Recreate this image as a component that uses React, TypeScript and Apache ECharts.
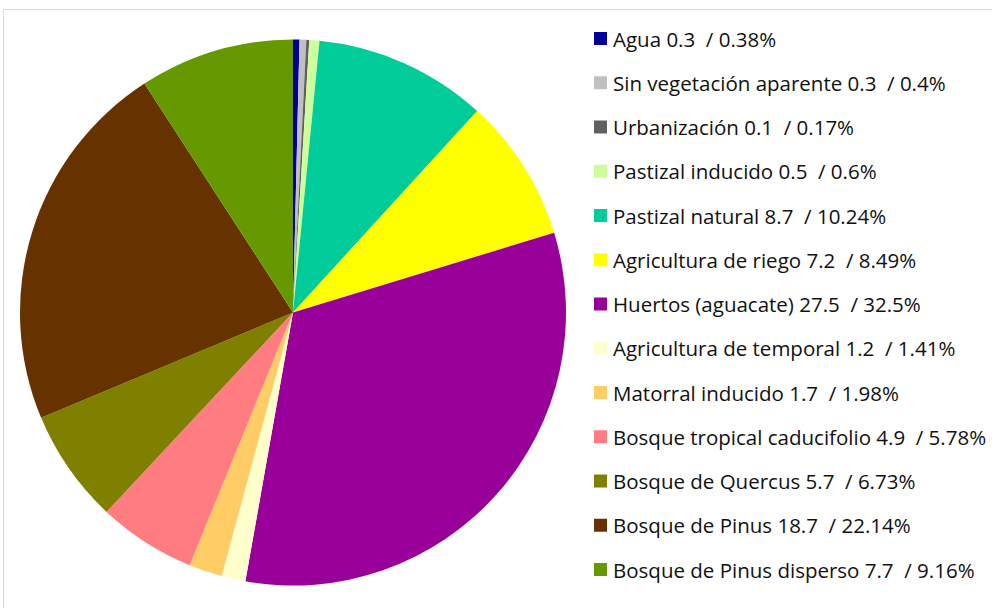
import React, { useEffect, useRef } from "react";
import * as echarts from "echarts";

const categories = [
  "Agua",
  "Sin vegetación aparente",
  "Urbanización",
  "Pastizal inducido",
  "Pastizal natural",
  "Agricultura de riego",
  "Huertos (aguacate)",
  "Agricultura de temporal",
  "Matorral inducido",
  "Bosque tropical caducifolio",
  "Bosque de Quercus",
  "Bosque de Pinus",
  "Bosque de Pinus disperso",
];

const areas = [0.3, 0.3, 0.1, 0.5, 8.7, 7.2, 27.5, 1.2, 1.7, 4.9, 5.7, 18.7, 7.7];
const percents = [0.38, 0.4, 0.17, 0.6, 10.24, 8.49, 32.5, 1.41, 1.98, 5.78, 6.73, 22.14, 9.16];
const percentLabels = ["0.38", "0.4", "0.17", "0.6", "10.24", "8.49", "32.5", "1.41", "1.98", "5.78", "6.73", "22.14", "9.16"];

const colors = [
  "#000099",
  "#c0c0c0",
  "#606060",
  "#ccff99",
  "#00cc99",
  "#ffff00",
  "#990099",
  "#ffffcc",
  "#ffcc66",
  "#ff7c80",
  "#808000",
  "#663300",
  "#669900",
];

export default function App() {
  const ref = useRef<HTMLDivElement>(null);
  useEffect(() => {
    if (!ref.current) return;
    const chart = echarts.init(ref.current, undefined, { renderer: "svg" });
    chart.setOption({
      animation: false,
      backgroundColor: "#ffffff",
      graphic: [
        {
          type: "rect",
          shape: { x: 3.5, y: 9.5, width: 1000, height: 700 },
          style: { fill: "none", stroke: "#d9d9d9", lineWidth: 1 },
          silent: true,
        },
      ],
      legend: {
        orient: "vertical",
        left: 594,
        top: 28,
        padding: 0,
        itemWidth: 13,
        itemHeight: 13,
        itemGap: 23.25,
        icon: "rect",
        data: categories,
        textStyle: {
          fontFamily: "Open Sans",
          fontSize: 20.5,
          color: "#111111",
          lineHeight: 20,
          padding: [0, 0, 0, 1],
        },
        formatter: (name: string) => {
          const i = categories.indexOf(name);
          return `${name} ${areas[i]}  / ${percentLabels[i]}%`;
        },
      },
      series: [
        {
          type: "pie",
          center: [293, 312.5],
          radius: [0, 273],
          startAngle: 90,
          clockwise: true,
          label: { show: false },
          labelLine: { show: false },
          itemStyle: { borderWidth: 0 },
          emphasis: { disabled: true },
          data: categories.map((c, i) => ({
            name: c,
            value: percents[i],
            itemStyle: { color: colors[i] },
          })),
        },
      ],
    });
    return () => chart.dispose();
  }, []);
  return (
    <div
      ref={ref}
      style={{ position: "fixed", left: 0, top: 0, width: 992, height: 608 }}
    />
  );
}
